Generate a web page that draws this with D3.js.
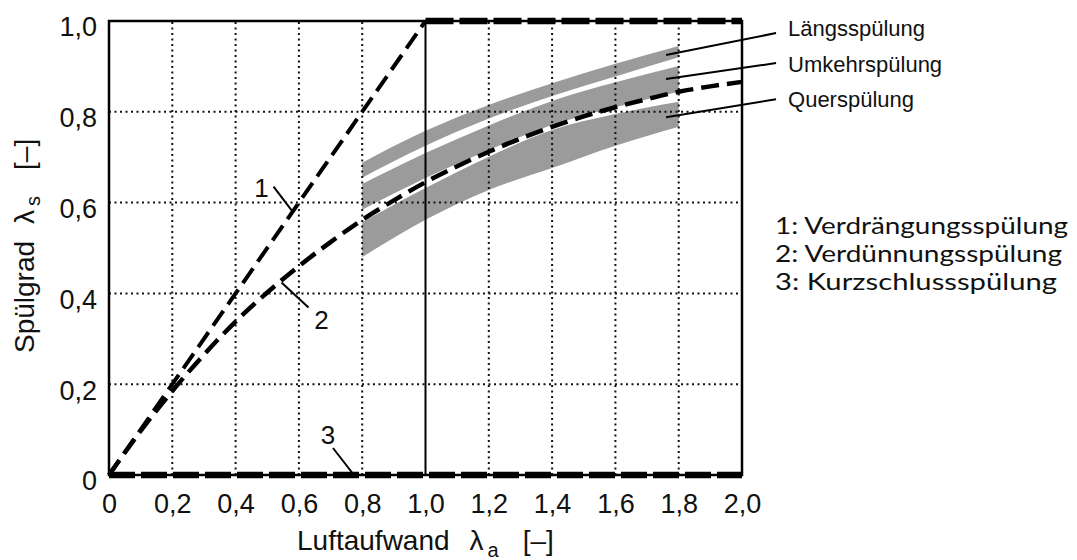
<!DOCTYPE html>
<html>
<head>
<meta charset="utf-8">
<script src="https://cdn.jsdelivr.net/npm/d3@7"></script>
<style>
  body { margin: 0; background: #fff; }
  svg { display: block; }
</style>
</head>
<body>
<svg width="1077" height="560"></svg>
<script>
// --- data ---
const xTicks = [0, 0.2, 0.4, 0.6, 0.8, 1.0, 1.2, 1.4, 1.6, 1.8, 2.0]
const xTickLabels = ['0', '0,2', '0,4', '0,6', '0,8', '1,0', '1,2', '1,4', '1,6', '1,8', '2,0']
const yTicks = [0, 0.2, 0.4, 0.6, 0.8, 1.0]
const yTickLabels = ['0', '0,2', '0,4', '0,6', '0,8', '1,0']

// 1: Verdrängungsspülung
const curve1X = [0, 1, 2]
const curve1Y = [0, 1, 1]
// 2: Verdünnungsspülung
const curve2X = [0, 0.1, 0.2, 0.3, 0.4, 0.5, 0.6, 0.7, 0.8, 0.9, 1.0, 1.1, 1.2, 1.3, 1.4, 1.5, 1.6, 1.7, 1.8, 1.9, 2.0]
const curve2Y = [0, 0.097, 0.185, 0.265, 0.338, 0.402, 0.46, 0.513, 0.562, 0.605, 0.645, 0.68, 0.712, 0.741, 0.767, 0.79, 0.81, 0.828, 0.844, 0.856, 0.866]
// 3: Kurzschlussspülung
const curve3X = [0, 2]
const curve3Y = [0, 0]

// grey bands
const bandX = [0.8, 1.0, 1.2, 1.4, 1.6, 1.8]
const laengsHi = [0.688, 0.758, 0.815, 0.863, 0.906, 0.945]
const laengsLo = [0.655, 0.725, 0.785, 0.835, 0.878, 0.920]
const umkehrHi = [0.641, 0.709, 0.770, 0.824, 0.865, 0.901]
const umkehrLo = [0.584, 0.654, 0.716, 0.771, 0.810, 0.844]
const querHi = [0.557, 0.632, 0.701, 0.760, 0.795, 0.822]
const querLo = [0.480, 0.562, 0.628, 0.676, 0.725, 0.767]

const bandNames = ['Längsspülung', 'Umkehrspülung', 'Querspülung']
const bandLabelAt = [[1.76, 0.925], [1.76, 0.872], [1.76, 0.788]]
const curveNames = ['1', '2', '3']
const curveLabelAt = [[0.58, 0.58], [0.545, 0.424], [0.774, 0]]
const legendLines = ['1: Verdrängungsspülung', '2: Verdünnungsspülung', '3: Kurzschlussspülung']

// --- drawing ---
const svg = d3.select('svg')
const x = d3.scaleLinear().domain([0, 2]).range([109, 742])
const y = d3.scaleLinear().domain([0, 1]).range([475, 21])
const font = '"Liberation Sans", Arial, sans-serif'

const band = (hi, lo) => d3.area()
  .curve(d3.curveMonotoneX)
  .x((d, i) => x(bandX[i]))
  .y0((d, i) => y(lo[i]))
  .y1((d, i) => y(hi[i]))(bandX)

const bands = [[laengsHi, laengsLo], [umkehrHi, umkehrLo], [querHi, querLo]]
svg.append('g').selectAll('path')
  .data(bands)
  .enter()
  .append('path')
  .attr('d', d => band(d[0], d[1]))
  .attr('fill', '#9b9b9b')

// dotted grid
const grid = svg.append('g')
  .attr('stroke', '#111')
  .attr('stroke-width', 2)
  .attr('stroke-dasharray', '2,3.5')
grid.selectAll('.gx')
  .data(xTicks.slice(1, -1).filter(d => d !== 1.0))
  .enter()
  .append('line')
  .attr('x1', d => x(d)).attr('x2', d => x(d))
  .attr('y1', y(0)).attr('y2', y(1))
grid.selectAll('.gy')
  .data(yTicks.slice(1, -1))
  .enter()
  .append('line')
  .attr('x1', x(0)).attr('x2', x(2))
  .attr('y1', d => y(d)).attr('y2', d => y(d))

// solid line at 1.0
svg.append('line')
  .attr('x1', x(1)).attr('x2', x(1))
  .attr('y1', y(0)).attr('y2', y(1))
  .attr('stroke', '#000')
  .attr('stroke-width', 2)

// frame
svg.append('rect')
  .attr('x', x(0)).attr('y', y(1))
  .attr('width', x(2) - x(0)).attr('height', y(0) - y(1))
  .attr('fill', 'none')
  .attr('stroke', '#000')
  .attr('stroke-width', 2.5)

const line = d3.line().x(d => x(d[0])).y(d => y(d[1]))
const pts = (xs, ys) => xs.map((v, i) => [v, ys[i]])

// curve 2
svg.append('path')
  .attr('d', line.curve(d3.curveMonotoneX)(pts(curve2X, curve2Y)))
  .attr('fill', 'none')
  .attr('stroke', '#000')
  .attr('stroke-width', 4.5)
  .attr('stroke-dasharray', '18,8')
line.curve(d3.curveLinear)

// curve 1: diagonal then thick along the top
const c1 = pts(curve1X, curve1Y)
svg.append('path')
  .attr('d', line(c1.slice(0, 2)))
  .attr('fill', 'none')
  .attr('stroke', '#000')
  .attr('stroke-width', 4)
  .attr('stroke-dasharray', '18,8')
svg.append('path')
  .attr('d', line(c1.slice(1)))
  .attr('fill', 'none')
  .attr('stroke', '#000')
  .attr('stroke-width', 6.5)
  .attr('stroke-dasharray', '28,6')

// curve 3
svg.append('path')
  .attr('d', line(pts(curve3X, curve3Y)))
  .attr('fill', 'none')
  .attr('stroke', '#000')
  .attr('stroke-width', 6.5)
  .attr('stroke-dasharray', '26,6')

// axes (labels only)
const gx = svg.append('g')
  .attr('transform', 'translate(0,' + y(0) + ')')
  .call(d3.axisBottom(x).tickValues(xTicks).tickFormat((d, i) => xTickLabels[i]).tickSize(0).tickPadding(19))
gx.select('.domain').remove()
gx.selectAll('text').attr('font-size', 27).attr('font-family', font).attr('fill', '#111')

const gy = svg.append('g')
  .attr('transform', 'translate(' + x(0) + ',0)')
  .call(d3.axisLeft(y).tickValues(yTicks).tickFormat((d, i) => yTickLabels[i]).tickSize(0).tickPadding(12))
gy.select('.domain').remove()
gy.selectAll('text').attr('font-size', 27).attr('font-family', font).attr('fill', '#111').attr('dy', '0.55em')

// axis titles
const xt = svg.append('text')
  .attr('x', 297).attr('y', 550)
  .attr('font-family', font).attr('font-size', 28).attr('fill', '#111')
xt.append('tspan').text('Luftaufwand')
xt.append('tspan').attr('dx', 20).text('λ')
xt.append('tspan').attr('font-size', 20).attr('dx', 4).attr('dy', 7).text('a')
xt.append('tspan').attr('dx', 24).attr('dy', -7).text('[–]')

const yt = svg.append('text')
  .attr('transform', 'translate(34,353) rotate(-90)')
  .attr('font-family', font).attr('font-size', 28).attr('fill', '#111')
yt.append('tspan').text('Spülgrad')
yt.append('tspan').attr('dx', 17).text('λ')
yt.append('tspan').attr('font-size', 20).attr('dx', 4).attr('dy', 6).text('s')
yt.append('tspan').attr('dx', 26).attr('dy', -6).text('[–]')

// curve number labels with leaders
const curveOffsets = [
  {lead: [-19, -25], text: [-31, -15]},
  {lead: [27, 25], text: [40, 46]},
  {lead: [-21, -27], text: [-26, -31]}
]
curveNames.forEach((name, i) => {
  const px = x(curveLabelAt[i][0])
  const py = y(curveLabelAt[i][1])
  const o = curveOffsets[i]
  svg.append('line')
    .attr('x1', px).attr('y1', py)
    .attr('x2', px + o.lead[0]).attr('y2', py + o.lead[1])
    .attr('stroke', '#000').attr('stroke-width', 2)
  svg.append('text')
    .attr('x', px + o.text[0]).attr('y', py + o.text[1])
    .attr('text-anchor', 'middle')
    .attr('font-family', font).attr('font-size', 26).attr('fill', '#111')
    .text(name)
})

// band labels with leaders
const bandOffsets = [
  {lead: [110, -22], text: [122, -19]},
  {lead: [110, -16], text: [122, -7]},
  {lead: [110, -18], text: [122, -10]}
]
bandNames.forEach((name, i) => {
  const px = x(bandLabelAt[i][0])
  const py = y(bandLabelAt[i][1])
  const o = bandOffsets[i]
  svg.append('line')
    .attr('x1', px).attr('y1', py)
    .attr('x2', px + o.lead[0]).attr('y2', py + o.lead[1])
    .attr('stroke', '#000').attr('stroke-width', 2)
  svg.append('text')
    .attr('x', px + o.text[0]).attr('y', py + o.text[1])
    .attr('font-family', font).attr('font-size', 22).attr('fill', '#111')
    .text(name)
})

// legend on the right
const legendWidths = [293, 287, 282]
svg.append('g').selectAll('text')
  .data(legendLines)
  .enter()
  .append('text')
  .attr('x', 775)
  .attr('y', (d, i) => 234 + i * 27.8)
  .attr('font-family', 'Lato, "Open Sans", sans-serif')
  .attr('font-size', 22.5)
  .attr('textLength', (d, i) => legendWidths[i])
  .attr('lengthAdjust', 'spacingAndGlyphs')
  .attr('fill', '#111')
  .text(d => d)
</script>
</body>
</html>
